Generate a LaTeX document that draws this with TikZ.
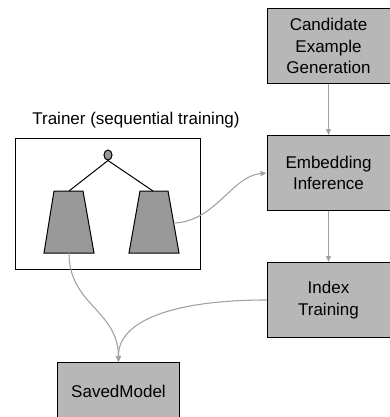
\documentclass[tikz,border=0pt]{standalone}
\usepackage{fontspec}
\setmainfont{Liberation Sans}
\usetikzlibrary{arrows.meta,shapes.geometric}
\definecolor{boxgray}{HTML}{B7B7B7}
\definecolor{trapgray}{HTML}{999999}
\definecolor{arrgray}{HTML}{A2A2A2}
\begin{document}
\begin{tikzpicture}[x=1pt,y=-1pt,
  box/.style={draw=black, line width=1pt, fill=boxgray, align=center,
    font=\fontsize{17}{21.5}\selectfont, inner sep=0pt, anchor=north west,
    minimum width=123pt, minimum height=75pt},
  flow/.style={draw=arrgray, line width=1.1pt, -{Triangle[length=6pt,width=5pt]}},
  trap/.style={draw=black, line width=1pt, fill=trapgray, line join=miter}]
\useasboundingbox (0,0) rectangle (389,417);
\node[box] (cand) at (266.5,8) {Candidate\\Example\\Generation};
\node[box] (emb) at (266.5,135) {Embedding\\Inference};
\node[box] (idx) at (266.5,262) {Index\\Training};
\node[box, minimum width=122pt, minimum height=58pt] (sav) at (57,362) {SavedModel};
\node[draw=black, line width=1pt, anchor=north west, minimum width=185pt, minimum height=131pt, inner sep=0pt] (trainer) at (15,138) {};
\node[font=\fontsize{17}{20}\selectfont] (title) at (136,120) {Trainer (sequential training)};
% tower
\draw[trap] (54,191) -- (83,191) -- (94,253) -- (44,253) -- cycle;
\draw[trap] (140,191) -- (168,191) -- (179,253) -- (129,253) -- cycle;
\node[draw=black, line width=1pt, fill=trapgray, ellipse, minimum width=8pt, minimum height=10pt, inner sep=0pt] (top) at (108,155) {};
\coordinate (ltop) at (69,191);
\coordinate (rtop) at (153,191);
\coordinate (lbot) at (69,253);
\coordinate (rside) at (173.7,223);
\draw[line width=1pt] (top.south) -- (ltop);
\draw[line width=1pt] (top.south) -- (rtop);
% flows
\draw[flow] (cand.south) -- (emb.north);
\draw[flow] (emb.south) -- (idx.north);
\draw[flow] (rside) .. controls (215,222) and (232,176) .. (emb.west);
\draw[flow] (lbot) .. controls (69,305) and (118,310) .. (sav.north);
\draw[flow] (idx.west) .. controls (175,300) and (118,320) .. (sav.north);
\end{tikzpicture}
\end{document}
